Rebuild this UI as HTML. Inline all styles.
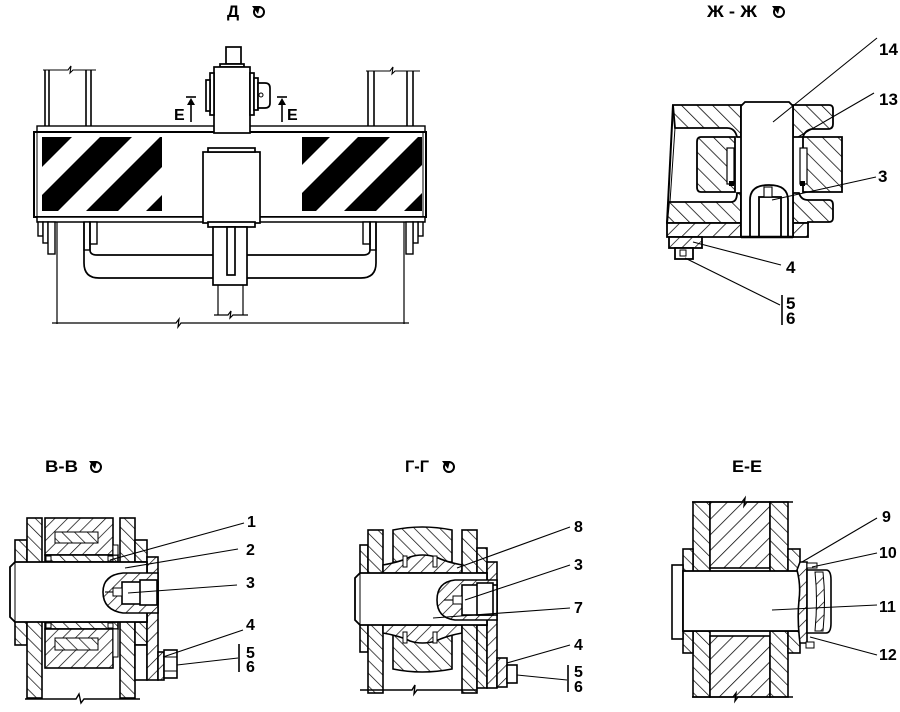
<!DOCTYPE html>
<html><head><meta charset="utf-8"><style>
html,body{margin:0;padding:0;background:#fff;}
svg{display:block;}
text{font-family:"Liberation Sans",Arial,sans-serif;font-weight:bold;fill:#000;}
</style></head><body>
<svg width="900" height="712" viewBox="0 0 900 712" xmlns="http://www.w3.org/2000/svg">
<defs>
<pattern id="hf" width="9" height="9" patternUnits="userSpaceOnUse" patternTransform="rotate(45)"><rect width="9" height="9" fill="#fff"/><line x1="0" y1="0" x2="0" y2="9" stroke="#000" stroke-width="1.4"/></pattern>
<pattern id="hb" width="9" height="9" patternUnits="userSpaceOnUse" patternTransform="rotate(-45)"><rect width="9" height="9" fill="#fff"/><line x1="0" y1="0" x2="0" y2="9" stroke="#000" stroke-width="1.4"/></pattern>
<pattern id="hb2" width="11" height="11" patternUnits="userSpaceOnUse" patternTransform="rotate(-45)"><rect width="11" height="11" fill="#fff"/><line x1="0" y1="0" x2="0" y2="11" stroke="#000" stroke-width="1.5"/></pattern>
<pattern id="hf2" width="11" height="11" patternUnits="userSpaceOnUse" patternTransform="rotate(45)"><rect width="11" height="11" fill="#fff"/><line x1="0" y1="0" x2="0" y2="11" stroke="#000" stroke-width="1.5"/></pattern>
<clipPath id="cl1"><rect x="42" y="137" width="120" height="74"/></clipPath>
<clipPath id="cl2"><rect x="302" y="137" width="120" height="74"/></clipPath>
</defs>

<!-- ================= TITLES ================= -->
<text x="227" y="17" font-size="17">Д</text>
<circle cx="259" cy="12" r="5" fill="none" stroke="#000" stroke-width="2"/><path d="M252,6 L260,6 L258,14 Z" fill="#000"/>

<text x="707" y="17" font-size="17" textLength="50" lengthAdjust="spacingAndGlyphs">Ж - Ж</text>
<circle cx="779" cy="12" r="5" fill="none" stroke="#000" stroke-width="2"/><path d="M772,6 L780,6 L778,14 Z" fill="#000"/>

<text x="45" y="472" font-size="17" textLength="33" lengthAdjust="spacingAndGlyphs">В-В</text>
<circle cx="96" cy="467" r="5" fill="none" stroke="#000" stroke-width="2"/><path d="M89,461 L97,461 L95,469 Z" fill="#000"/>

<text x="405" y="472" font-size="17" textLength="24" lengthAdjust="spacingAndGlyphs">Г-Г</text>
<circle cx="449" cy="467" r="5" fill="none" stroke="#000" stroke-width="2"/><path d="M442,461 L450,461 L448,469 Z" fill="#000"/>

<text x="732" y="472" font-size="17" textLength="30" lengthAdjust="spacingAndGlyphs">Е-Е</text>

<!-- ================= VIEW Д (top-left) ================= -->
<g fill="none" stroke="#000" stroke-width="1.6">
  <line x1="45" y1="70" x2="45" y2="126"/><line x1="49" y1="70" x2="49" y2="126"/>
  <line x1="86" y1="70" x2="86" y2="126"/><line x1="91" y1="70" x2="91" y2="126"/>
  <path d="M43,70 H68 L71,66 L70,73 L73,70 H96" stroke-width="1.1"/>
  <line x1="368" y1="71" x2="368" y2="126"/><line x1="374" y1="71" x2="374" y2="126"/>
  <line x1="407" y1="71" x2="407" y2="126"/><line x1="413" y1="71" x2="413" y2="126"/>
  <path d="M366,71 H390 L393,67 L392,74 L395,71 H420" stroke-width="1.1"/>
  <rect x="37" y="126" width="388" height="6" stroke-width="1.4"/>
</g>
<rect x="34" y="132" width="392" height="85" fill="#fff" stroke="#000" stroke-width="2"/>
<line x1="37" y1="133" x2="37" y2="216" stroke="#000" stroke-width="1"/>
<line x1="423" y1="133" x2="423" y2="216" stroke="#000" stroke-width="1"/>
<g clip-path="url(#cl1)" fill="#000">
  <polygon points="40,137 72,137 -2,211 -34,211"/>
  <polygon points="100,137 132,137 58,211 26,211"/>
  <polygon points="160,137 192,137 118,211 86,211"/>
  <polygon points="220,137 252,137 178,211 146,211"/>
</g>
<g clip-path="url(#cl2)" fill="#000">
  <polygon points="298,137 330,137 256,211 224,211"/>
  <polygon points="358,137 390,137 316,211 284,211"/>
  <polygon points="418,137 450,137 376,211 344,211"/>
  <polygon points="478,137 510,137 436,211 404,211"/>
</g>
<rect x="37" y="217" width="388" height="5" fill="#fff" stroke="#000" stroke-width="1.5"/>

<g fill="#fff" stroke="#000" stroke-width="1.7">
  <rect x="226" y="47" width="15" height="17"/>
  <rect x="220" y="64" width="24" height="3"/>
  <rect x="214" y="67" width="36" height="66"/>
  <rect x="210" y="73" width="4" height="42"/>
  <rect x="206" y="80" width="4" height="31"/>
  <rect x="250" y="73" width="4" height="42"/>
  <rect x="254" y="78" width="4" height="32"/>
  <path d="M258,83 H265 Q270,83 270,88 V103 Q270,108 265,108 H258 Z"/>
  <circle cx="261" cy="95" r="2" stroke-width="1"/>
  <rect x="203" y="152" width="57" height="71"/>
  <rect x="208" y="148" width="47" height="4"/>
  <rect x="208" y="222" width="47" height="5"/>
</g>
<g stroke="#000" stroke-width="1.6">
  <line x1="191" y1="100" x2="191" y2="122"/><line x1="186" y1="97" x2="196" y2="97"/>
  <line x1="282" y1="100" x2="282" y2="122"/><line x1="277" y1="97" x2="287" y2="97"/>
</g>
<path d="M191,98 L187,105 H195 Z M282,98 L278,105 H286 Z" fill="#000"/>
<text x="174" y="120" font-size="16">Е</text>
<text x="287" y="120" font-size="16">Е</text>

<g fill="#fff" stroke="#000" stroke-width="1.4">
  <rect x="38" y="222" width="5" height="14"/>
  <rect x="43" y="222" width="5" height="21"/>
  <rect x="48" y="222" width="7" height="32"/>
  <rect x="418" y="222" width="5" height="14"/>
  <rect x="413" y="222" width="5" height="21"/>
  <rect x="406" y="222" width="7" height="32"/>
  <rect x="84" y="222" width="6" height="28"/>
  <rect x="90" y="222" width="7" height="22"/>
  <rect x="370" y="222" width="6" height="28"/>
  <rect x="363" y="222" width="7" height="22"/>
</g>
<g fill="none" stroke="#000" stroke-width="1.7">
  <path d="M84,222 V263 Q84,278 99,278 H213"/>
  <path d="M90,222 V250 Q90,255 97,255 H213"/>
  <path d="M376,222 V263 Q376,278 361,278 H247"/>
  <path d="M370,222 V250 Q370,255 363,255 H247"/>
</g>
<g fill="#fff" stroke="#000" stroke-width="1.7">
  <rect x="213" y="227" width="34" height="58"/>
  <rect x="227" y="227" width="8" height="48"/>
</g>
<g fill="none" stroke="#000" stroke-width="1.2">
  <line x1="218" y1="285" x2="218" y2="315"/><line x1="243" y1="285" x2="243" y2="315"/>
  <path d="M214,315 H228 L231,311 L230,318 L233,315 H248"/>
  <line x1="57" y1="222" x2="57" y2="324"/>
  <line x1="404" y1="222" x2="404" y2="324"/>
  <path d="M52,323 H176 L179,319 L178,327 L181,323 H409"/>
</g>

<!-- ================= VIEW Ж-Ж (top-right) ================= -->
<g stroke="#000" stroke-width="1.8">
  <path d="M673,105 H741 V137 H737 Q735,128 727,128 H675 Z" fill="url(#hb2)"/>
  <path d="M793,105 H829 Q833,105 833,109 V124 Q833,129 828,129 H812 Q805,130 803,137 H793 Z" fill="url(#hb2)"/>
  <path d="M701,137 H735 V192 H701 Q697,192 697,187 V142 Q697,137 701,137 Z" fill="url(#hb2)"/>
  <path d="M803,137 H842 V192 H803 Z" fill="url(#hb2)"/>
  <path d="M669,202 H731 Q737,202 737,193 H741 V223 H667 Z" fill="url(#hb2)"/>
  <path d="M793,193 H799 Q801,200 808,200 H829 Q833,200 833,205 V218 Q833,222 829,222 H808 V223 H793 Z" fill="url(#hb2)"/>
  <path d="M667,223 H741 V237 H667 Z" fill="url(#hf2)"/>
  <path d="M793,223 H808 V237 H793 Z" fill="url(#hf2)"/>
  <path d="M673,105 L667,223" fill="none" stroke-width="2"/>
  <path d="M675,128 L670,202" fill="none" stroke-width="1"/>
  <rect x="727" y="148" width="7" height="36" fill="#fff" stroke-width="1.2"/>
  <rect x="800" y="148" width="7" height="36" fill="#fff" stroke-width="1.2"/>
  <path d="M741,237 V106 L745,102 H789 L793,106 V237 Z" fill="#fff"/>
  <path d="M750,237 V200 Q750,185 769,185 Q788,185 788,200 V237" fill="none"/>
  <rect x="759" y="197" width="22" height="40" fill="#fff"/>
  <rect x="764" y="187" width="8" height="10" fill="#fff" stroke-width="1.1"/>
  <line x1="741" y1="237" x2="793" y2="237" stroke-width="2.5"/>
  <rect x="669" y="237" width="33" height="11" fill="url(#hf)"/>
  <rect x="675" y="248" width="18" height="11" fill="#fff"/>
  <rect x="680" y="250" width="6" height="6" fill="none" stroke-width="1"/>
</g>
<rect x="729" y="181" width="5" height="5" fill="#000"/>
<rect x="800" y="181" width="5" height="5" fill="#000"/>
<g stroke="#000" stroke-width="1.1" fill="none">
  <line x1="773" y1="122" x2="877" y2="38"/>
  <line x1="798" y1="137" x2="874" y2="93"/>
  <line x1="772" y1="200" x2="876" y2="177"/>
  <line x1="693" y1="242" x2="781" y2="265"/>
  <line x1="685" y1="258" x2="780" y2="305"/>
  <line x1="782" y1="295" x2="782" y2="325" stroke-width="1.6"/>
</g>
<text x="879" y="55" font-size="17">14</text>
<text x="879" y="105" font-size="17">13</text>
<text x="878" y="182" font-size="17">3</text>
<text x="786" y="273" font-size="17">4</text>
<text x="786" y="309" font-size="17">5</text>
<text x="786" y="324" font-size="17">6</text>

<!-- ================= SECTION В-В ================= -->
<g stroke="#000" stroke-width="1.6">
  <rect x="15" y="540" width="12" height="105" fill="url(#hb)"/>
  <rect x="27" y="518" width="15" height="180" fill="url(#hb)"/>
  <rect x="45" y="518" width="68" height="37" fill="url(#hf)"/>
  <rect x="55" y="532" width="43" height="11" fill="url(#hb)" stroke-width="1"/>
  <rect x="45" y="555" width="73" height="7" fill="url(#hb)"/>
  <rect x="45" y="622" width="73" height="7" fill="url(#hb)"/>
  <rect x="45" y="629" width="68" height="39" fill="url(#hf)"/>
  <rect x="55" y="638" width="43" height="12" fill="url(#hb)" stroke-width="1"/>
  <rect x="113" y="545" width="5" height="10" fill="#fff" stroke-width="1"/>
  <rect x="113" y="629" width="5" height="28" fill="#fff" stroke-width="1"/>
  <rect x="120" y="518" width="15" height="180" fill="url(#hb)"/>
  <rect x="135" y="540" width="12" height="22" fill="url(#hb)"/>
  <rect x="135" y="622" width="12" height="23" fill="url(#hb)"/>
  <rect x="135" y="645" width="12" height="35" fill="#fff"/>
  <rect x="147" y="557" width="11" height="123" fill="url(#hf)"/>
  <path d="M15,562 H147 V622 H15 L10,617 V567 Z" fill="#fff" stroke-width="1.8"/>
  <line x1="15" y1="562" x2="15" y2="622" stroke-width="1"/>
  <path d="M158,573 H123 Q103,575 103,592 Q103,610 123,613 H158 Z" fill="url(#hf)"/>
  <rect x="122" y="582" width="36" height="22" fill="#fff"/>
  <rect x="140" y="580" width="17" height="25" fill="#fff"/>
  <rect x="113" y="588" width="9" height="8" fill="#fff" stroke-width="1"/>
  <rect x="158" y="652" width="6" height="28" fill="url(#hf)"/>
  <rect x="164" y="650" width="13" height="28" fill="#fff"/>
  <line x1="164" y1="657" x2="177" y2="657" stroke-width="1"/>
  <line x1="164" y1="671" x2="177" y2="671" stroke-width="1"/>
</g>
<g fill="#fff" stroke="#000" stroke-width="1">
  <rect x="46" y="556" width="5" height="5"/><rect x="108" y="556" width="5" height="5"/>
  <rect x="46" y="623" width="5" height="5"/><rect x="108" y="623" width="5" height="5"/>
</g>
<g stroke="#000" stroke-width="1.1" fill="none">
  <line x1="105" y1="592" x2="113" y2="592"/>
  <path d="M25,699 H76 L79,694 L81,703 L84,699 H140" stroke-width="1.4"/>
  <line x1="110" y1="560" x2="244" y2="523"/>
  <line x1="125" y1="568" x2="238" y2="549"/>
  <line x1="128" y1="593" x2="237" y2="585"/>
  <line x1="163" y1="657" x2="243" y2="630"/>
  <line x1="177" y1="665" x2="238" y2="658"/>
  <line x1="239" y1="644" x2="239" y2="672" stroke-width="1.6"/>
</g>
<text x="247" y="527" font-size="16">1</text>
<text x="246" y="555" font-size="16">2</text>
<text x="246" y="588" font-size="16">3</text>
<text x="246" y="630" font-size="16">4</text>
<text x="246" y="658" font-size="16">5</text>
<text x="246" y="672" font-size="16">6</text>

<!-- ================= SECTION Г-Г ================= -->
<g stroke="#000" stroke-width="1.6">
  <rect x="360" y="545" width="8" height="107" fill="url(#hb)"/>
  <rect x="368" y="530" width="15" height="163" fill="url(#hb)"/>
  <path d="M393,530 Q422,524 452,530 V562 H393 Z" fill="url(#hb)"/>
  <path d="M393,635 H452 V669 Q422,675 393,669 Z" fill="url(#hb)"/>
  <path d="M383,565 Q400,562 410,557 Q422,553 436,557 Q446,562 462,565 V573 H383 Z" fill="url(#hf)"/>
  <path d="M383,625 H462 V633 Q446,636 436,641 Q422,645 410,641 Q400,636 383,633 Z" fill="url(#hf)"/>
  <rect x="462" y="530" width="15" height="163" fill="url(#hb)"/>
  <rect x="477" y="548" width="10" height="25" fill="url(#hb)"/>
  <rect x="477" y="625" width="10" height="63" fill="url(#hb)"/>
  <rect x="487" y="562" width="10" height="126" fill="url(#hf)"/>
  <path d="M360,573 H487 V625 H360 L355,620 V578 Z" fill="#fff" stroke-width="1.8"/>
  <line x1="360" y1="573" x2="360" y2="625" stroke-width="1"/>
  <path d="M497,580 H455 Q437,582 437,600 Q437,618 455,620 H497 Z" fill="url(#hf)"/>
  <rect x="462" y="585" width="35" height="30" fill="#fff"/>
  <rect x="477" y="583" width="16" height="32" fill="#fff"/>
  <rect x="453" y="596" width="9" height="8" fill="#fff" stroke-width="1"/>
  <rect x="497" y="658" width="10" height="29" fill="url(#hf)"/>
  <rect x="507" y="665" width="10" height="18" fill="#fff"/>
</g>
<g fill="#fff" stroke="#000" stroke-width="1">
  <rect x="403" y="556" width="4" height="11"/><rect x="433" y="556" width="4" height="11"/>
  <rect x="403" y="632" width="4" height="11"/><rect x="433" y="632" width="4" height="11"/>
</g>
<g stroke="#000" stroke-width="1.1" fill="none">
  <line x1="444" y1="600" x2="453" y2="600"/>
  <path d="M360,690 H412 L415,685 L414,694 L417,690 H477" stroke-width="1.4"/>
  <line x1="457" y1="568" x2="570" y2="527"/>
  <line x1="465" y1="600" x2="570" y2="565"/>
  <line x1="433" y1="618" x2="570" y2="608"/>
  <line x1="507" y1="663" x2="570" y2="645"/>
  <line x1="517" y1="675" x2="567" y2="680"/>
  <line x1="568" y1="665" x2="568" y2="692" stroke-width="1.6"/>
</g>
<text x="574" y="532" font-size="16">8</text>
<text x="574" y="570" font-size="16">3</text>
<text x="574" y="613" font-size="16">7</text>
<text x="574" y="650" font-size="16">4</text>
<text x="574" y="677" font-size="16">5</text>
<text x="574" y="692" font-size="16">6</text>

<!-- ================= SECTION Е-Е ================= -->
<g stroke="#000" stroke-width="1.6">
  <rect x="693" y="502" width="17" height="70" fill="url(#hb)"/>
  <rect x="710" y="502" width="60" height="66" fill="url(#hf2)"/>
  <rect x="770" y="502" width="18" height="70" fill="url(#hb)"/>
  <rect x="693" y="631" width="17" height="66" fill="url(#hb)"/>
  <rect x="710" y="636" width="60" height="61" fill="url(#hf2)"/>
  <rect x="770" y="631" width="18" height="66" fill="url(#hb)"/>
  <rect x="683" y="549" width="10" height="23" fill="url(#hb)"/>
  <rect x="683" y="631" width="10" height="22" fill="url(#hb)"/>
  <rect x="788" y="549" width="12" height="23" fill="url(#hb)"/>
  <rect x="788" y="631" width="12" height="22" fill="url(#hb)"/>
  <rect x="672" y="565" width="11" height="74" fill="#fff"/>
  <rect x="683" y="571" width="117" height="60" fill="#fff" stroke-width="1.8"/>
  <path d="M800,562 H807 V643 H800 Q797,620 799,600 Q801,585 797,570 Z" fill="url(#hf)"/>
  <path d="M807,570 H826 Q831,570 831,580 V623 Q831,633 826,633 H807 Z" fill="#fff"/>
  <path d="M815,572 Q818,600 815,631 H823 Q826,600 823,572 Z" fill="url(#hf)" stroke-width="1"/>
  <rect x="807" y="563" width="10" height="5" fill="#fff" stroke-width="1"/>
  <rect x="806" y="642" width="8" height="6" fill="#fff" stroke-width="1"/>
</g>
<g stroke="#000" stroke-width="1.1" fill="none">
  <path d="M692,502 H742 L745,498 L744,506 L747,502 H793" stroke-width="1.4"/>
  <path d="M692,697 H733 L736,693 L735,701 L738,697 H793" stroke-width="1.4"/>
  <line x1="802" y1="562" x2="877" y2="518"/>
  <line x1="812" y1="567" x2="877" y2="553"/>
  <line x1="772" y1="610" x2="877" y2="605"/>
  <line x1="810" y1="637" x2="877" y2="655"/>
</g>
<text x="882" y="522" font-size="16">9</text>
<text x="879" y="558" font-size="16">10</text>
<text x="879" y="612" font-size="16">11</text>
<text x="879" y="660" font-size="16">12</text>
</svg>
</body></html>
